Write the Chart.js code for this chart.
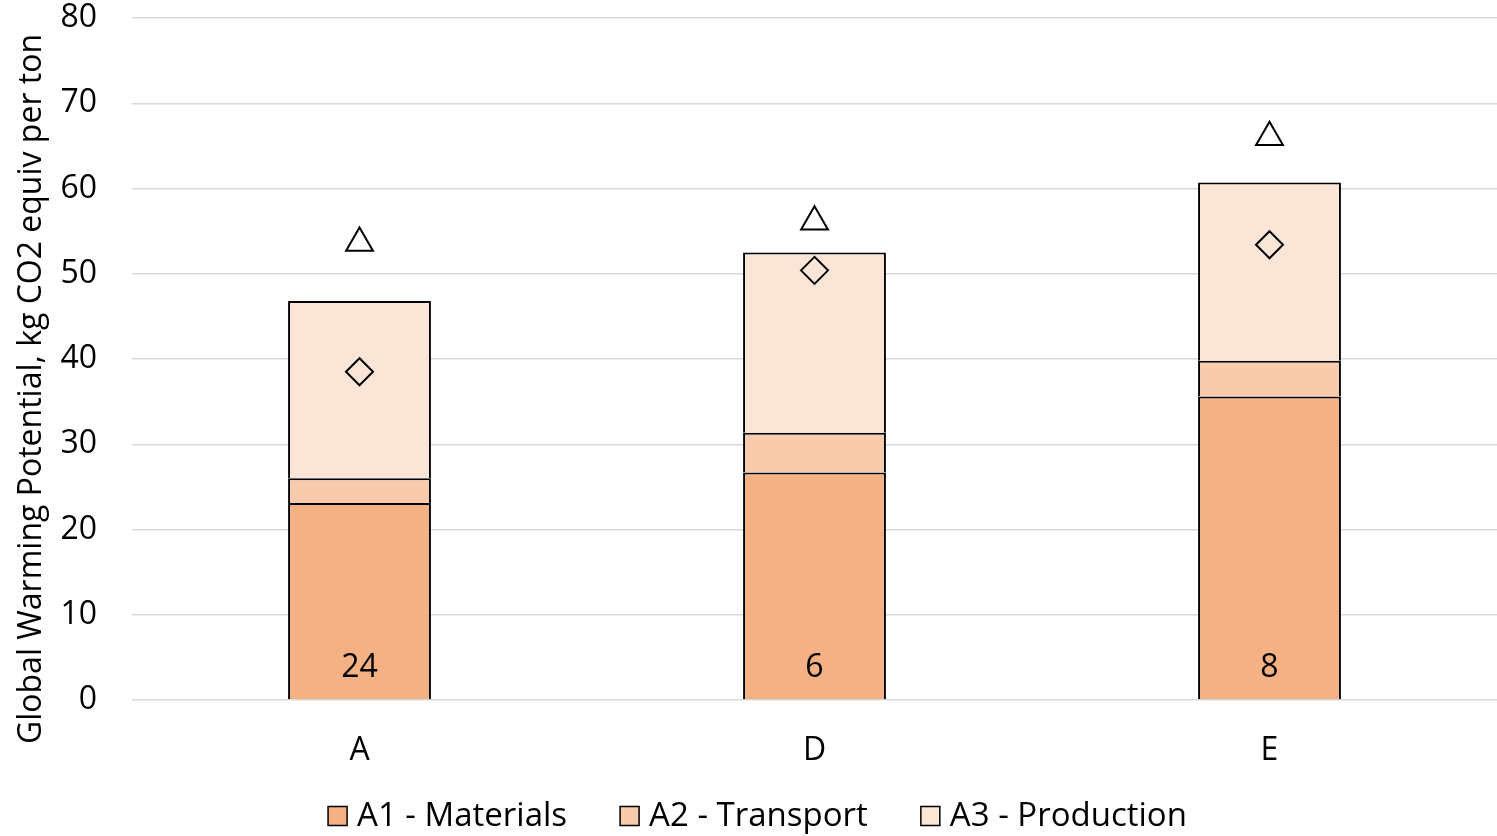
<!DOCTYPE html>
<html>
<head>
<meta charset="utf-8">
<title>Global Warming Potential</title>
<script src="https://cdn.jsdelivr.net/npm/chart.js@4/dist/chart.umd.min.js"></script>
<style>
  html, body { margin: 0; padding: 0; background: #ffffff; }
  #c { display: block; }
</style>
</head>
<body>
<canvas id="c" width="1497" height="836"></canvas>
<script>
// Product groups along the x axis
const categories = ['A', 'D', 'E'];

// Stacked life-cycle stages, kg CO2 equiv per ton
const materials  = [23.1, 26.7, 35.6];
const transport  = [2.9, 4.65, 4.2];
const production = [20.8, 21.15, 20.9];

// Point markers drawn over each stack
const diamondMarks  = [38.5, 50.4, 53.4];
const triangleMarks = [53.6, 56.1, 66.0];

// Counts printed near the foot of each bar
const sampleCounts = ['24', '6', '8'];

// Value axis ticks
const yTickValues = [0, 10, 20, 30, 40, 50, 60, 70, 80];

const axisTitle = 'Global Warming Potential, kg CO2 equiv per ton';

const FONT = "'Open Sans', 'DejaVu Sans', sans-serif";

// Rotated value-axis title
const axisTitlePlugin = {
  id: 'axisTitle',
  afterDraw(chart) {
    const ctx = chart.ctx;
    const area = chart.chartArea;
    ctx.save();
    ctx.translate(32, (area.top + area.bottom) / 2 + 30);
    ctx.rotate(-Math.PI / 2);
    ctx.font = '32px ' + FONT;
    ctx.fillStyle = '#000000';
    ctx.textAlign = 'center';
    ctx.textBaseline = 'middle';
    ctx.fillText(axisTitle, 0, 0);
    ctx.restore();
  }
};

// Count labels inside the bottom segment of each bar
const countLabelPlugin = {
  id: 'countLabels',
  afterDatasetsDraw(chart) {
    const ctx = chart.ctx;
    const x = chart.scales.x;
    const y = chart.scales.y;
    ctx.save();
    ctx.font = '32px ' + FONT;
    ctx.fillStyle = '#000000';
    ctx.textAlign = 'center';
    ctx.textBaseline = 'middle';
    sampleCounts.forEach((txt, i) => {
      ctx.fillText(txt, x.getPixelForValue(i), y.getPixelForValue(0) - 32);
    });
    ctx.restore();
  }
};

// Legend row for the three stacked stages, built from the bar datasets
const stageLegendPlugin = {
  id: 'stageLegend',
  afterDraw(chart) {
    const ctx = chart.ctx;
    const items = chart.data.datasets.filter(d => d.stack === 'stages');
    const box = 19, boxGap = 10, itemGap = 53;
    const cy = 816;
    ctx.save();
    ctx.font = '33px ' + FONT;
    ctx.textBaseline = 'middle';
    ctx.textAlign = 'left';
    const widths = items.map(d => box + boxGap + ctx.measureText(d.label).width);
    const total = widths.reduce((a, b) => a + b, 0) + itemGap * (items.length - 1);
    let x = chart.width / 2 + 9 - total / 2;
    items.forEach((d, i) => {
      ctx.fillStyle = d.backgroundColor;
      ctx.fillRect(x, cy - box / 2, box, box);
      ctx.strokeStyle = '#000000';
      ctx.lineWidth = 1.5;
      ctx.strokeRect(x, cy - box / 2, box, box);
      ctx.fillStyle = '#000000';
      ctx.fillText(d.label, x + box + boxGap, cy + 1);
      x += widths[i] + itemGap;
    });
    ctx.restore();
  }
};

// Fixed scale sizes with no extra edge padding from tick labels
function fixScale(size) {
  return function (scale) {
    if (scale.isHorizontal()) scale.height = size; else scale.width = size;
    scale.paddingTop = 0;
    scale.paddingBottom = 0;
    scale.paddingLeft = 0;
    scale.paddingRight = 0;
  };
}

const barStyle = {
  borderColor: '#000000',
  borderWidth: 2,
  barPercentage: 0.314,
  categoryPercentage: 1.0,
  stack: 'stages'
};

const markerStyle = {
  type: 'line',
  showLine: false,
  borderColor: '#000000',
  backgroundColor: 'rgba(0,0,0,0)',
  pointBorderWidth: 2,
  pointBorderColor: '#000000',
  pointBackgroundColor: 'rgba(0,0,0,0)',
  order: -1
};

new Chart(document.getElementById('c'), {
  type: 'bar',
  data: {
    labels: categories,
    datasets: [
      Object.assign({ label: 'A1 - Materials',  data: materials,  backgroundColor: '#F4B183' }, barStyle),
      Object.assign({ label: 'A2 - Transport',  data: transport,  backgroundColor: '#F8CBAD' }, barStyle),
      Object.assign({ label: 'A3 - Production', data: production, backgroundColor: '#FBE5D6' }, barStyle),
      Object.assign({ label: 'diamond',  data: diamondMarks,  stack: 'diamond',
        pointStyle: 'rectRot', pointRadius: 13.5, pointHoverRadius: 13.5 }, markerStyle),
      Object.assign({ label: 'triangle', data: triangleMarks, stack: 'triangle',
        pointStyle: 'triangle', pointRadius: 15.5, pointHoverRadius: 15.5 }, markerStyle)
    ]
  },
  options: {
    responsive: false,
    animation: false,
    devicePixelRatio: 1,
    layout: { autoPadding: false, padding: { top: 18, right: 0, bottom: 56, left: 0 } },
    plugins: {
      tooltip: { enabled: false },
      legend: { display: false }
    },
    scales: {
      x: {
        stacked: true,
        grid: { display: false },
        border: { display: false },
        ticks: { font: { family: FONT, size: 32 }, color: '#000000', padding: 24 },
        afterFit: fixScale(80)
      },
      y: {
        stacked: true,
        min: 0,
        max: 80,
        afterBuildTicks(scale) { scale.ticks = yTickValues.map(v => ({ value: v })); },
        grid: { color: '#D9D9D9', lineWidth: 1.5, drawTicks: false },
        border: { display: false },
        ticks: { font: { family: FONT, size: 32, lineHeight: 1.1 }, color: '#000000', padding: 35 },
        afterFit: fixScale(132)
      }
    }
  },
  plugins: [axisTitlePlugin, countLabelPlugin, stageLegendPlugin]
});
</script>
</body>
</html>
